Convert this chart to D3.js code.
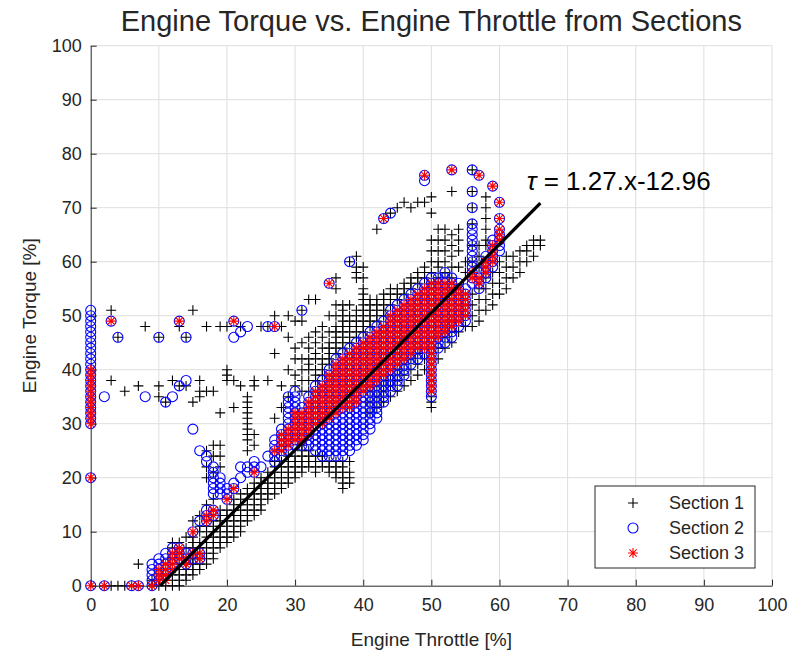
<!DOCTYPE html>
<html>
<head>
<meta charset="utf-8">
<script src="https://cdn.jsdelivr.net/npm/d3@7"></script>
<style>
body { margin: 0; background: #fff; }
svg { font-family: "Liberation Sans", Arial, sans-serif; }
</style>
</head>
<body>
<div id="chart"></div>
<script>

// tick values on both axes
var tickValues = [0, 10, 20, 30, 40, 50, 60, 70, 80, 90, 100];

// series names
var seriesNames = ["Section 1", "Section 2", "Section 3"];

// fitted line  tau = a.x + b  (drawn between two throttle values)
var fitSlope = 1.27;
var fitIntercept = -12.96;
var fitX = [10.2, 66];

// Section 1 : [throttle, [torque values]]
var section1 = [
	[2,[0]],[3,[0,38,51]],[4,[0,46]],[5,[0,36]],[6,[0]],[7,[0,4,37]],[8,[48]],[9,[0,1]],
	[10,[0,1,35,37,46]],[11,[0,1,2,34]],[12,[0,1,2,3,5,7,8,38]],[13,[0,1,2,3,4,6,8,37,48]],
	[14,[1,2,3,4,5,7,9,37,46]],[15,[2,3,4,5,6,7,8,9,12,34,51]],
	[16,[3,4,5,6,7,8,10,11,13,35,36,38]],[17,[4,5,6,7,8,9,10,11,15,20,22,25,36,48]],
	[18,[5,6,7,8,9,10,11,12,16,21,24,26,36]],[19,[7,8,9,10,11,12,13,14,22,24,26,32,48]],
	[20,[8,9,10,11,12,13,14,38,39,40,48]],[21,[9,10,11,12,13,14,15,16,33,38]],
	[22,[10,11,12,13,14,15,16,17,37,48]],
	[23,[12,13,14,15,16,17,18,25,27,28,29,30,31,32,33,34,35]],
	[24,[13,14,15,16,17,18,19,26,28,37,38]],[25,[14,15,16,17,18,19,20,48]],
	[26,[16,17,18,19,20,21,38,48]],[27,[17,18,19,20,21,22,23,31,43,50]],
	[28,[18,19,20,21,22,23,33,37,48]],[29,[19,20,21,22,23,24,35,40,46,50]],
	[30,[20,21,22,23,24,37,39,42,44,49]],[31,[21,22,23,24,25,26,36,38,40,42,45,49,51]],
	[32,[22,23,24,25,36,38,40,41,42,44,46,53]],[33,[21,22,23,24,38,39,40,42,43,45,47,53]],
	[34,[22,23,24,39,40,41,42,44,46,48]],[35,[21,22,23,41,42,43,44,45,47,50]],
	[36,[20,21,22,23,43,44,45,46,47,48,50,52,55,57]],
	[37,[18,19,20,21,22,23,44,45,46,47,48,49,50,51,52]],
	[38,[19,20,21,23,45,46,47,48,49,50,52,60]],[39,[46,47,48,49,50,51,57,58,59,61]],
	[40,[47,48,49,50,51,52,53,54,55,57,59]],[41,[32,34,36,48,49,50,51,52,53]],
	[42,[33,35,37,49,50,51,52,53,66]],[43,[34,36,38,50,51,52,53,54,68]],
	[44,[35,37,39,52,53,54,55,69]],[45,[36,38,40,53,54,55,70]],[46,[37,39,41,54,55,56,71]],
	[47,[38,40,42,55,56,57,70]],[48,[39,41,43,56,57,58,71]],[49,[40,42,44,57,58,59,71]],
	[50,[33,34,35,56,58,60,62,64,69,72]],[51,[42,44,46,57,59,60,62,64,66]],
	[52,[44,46,48,58,60,62,64,66]],[53,[45,47,49,57,59,61,63,65,73]],[54,[47,49,51,59,62,64,66]],
	[55,[48,50,52,58,60]],[56,[48,50,52,54,60,63,67,70,73,77]],[57,[49,51,53,55,59,61,63]],
	[58,[51,53,55,57,63,64,66,68,70,72]],[59,[52,54,56,58]],[60,[54,56,58,60]],
	[61,[55,57,59,61]],[62,[57,59,61]],[63,[58,60,62]],[64,[60,62,63]],[65,[61,63,64]],[66,[63,64]]
];

// Section 2
var section2 = [
	[0,[0,20,30,31,32,33,34,35,36,37,38,39,40,41,42,43,44,45,46,47,48,49,50,51]],
	[2,[0,35]],[3,[49]],[4,[46]],[6,[0]],[7,[0]],[8,[35]],[9,[0,1,2,3,4]],
	[10,[1,2,3,4,5,46]],[11,[2,3,4,5,6,34]],[12,[4,5,6,7,35]],[13,[5,6,7,37,49]],
	[14,[4,5,6,38,46]],[15,[5,6,10,29]],[16,[5,6,12,25]],[17,[12,13,14,23,24]],
	[18,[13,14,17,18,19,20,21,22]],[19,[17,18,19,20]],[20,[16,17,18]],[21,[18,19,46,49]],
	[22,[20,22,47]],[23,[21,22,48]],[24,[21,22,23]],[25,[22]],[26,[24,48]],
	[27,[23,24,25,26,27,48]],[28,[24,25,26,27,28,29]],
	[29,[25,26,27,28,29,30,31,32,33,34,35]],[30,[26,27,28,29,30,31,32,33,34,35,36]],
	[31,[26,27,28,29,30,31,32,33,51]],[32,[26,27,28,29,30,31,32,33,34,35]],
	[33,[25,26,27,28,29,30,31,32,33,34,35,36,37]],
	[34,[24,25,26,27,28,29,30,31,32,33,34,35,36,37,38]],
	[35,[24,25,26,27,28,29,30,31,32,33,34,35,36,37,38,39,40,56]],
	[36,[24,25,26,27,28,29,30,31,32,33,34,35,36,37,38,39,40,41,42]],
	[37,[24,25,26,27,28,29,30,31,32,33,34,35,36,37,38,39,40,41,42,43]],
	[38,[25,26,27,28,29,30,31,32,33,34,35,36,37,38,39,40,41,42,43,44,60]],
	[39,[26,27,28,29,30,31,32,33,34,35,36,37,38,39,40,41,42,43,44,45]],
	[40,[27,28,29,30,31,32,33,34,35,36,37,38,39,40,41,42,43,44,45,46]],
	[41,[29,30,31,32,33,34,35,36,37,38,39,40,41,42,43,44,45,46,47]],
	[42,[31,32,33,34,35,36,37,38,39,40,41,42,43,44,45,46,47,48]],
	[43,[34,35,36,37,38,39,40,41,42,43,44,45,46,47,48,49,68]],
	[44,[36,37,38,39,40,41,42,43,44,45,46,47,48,49,50,51,69]],
	[45,[37,38,39,40,41,42,43,44,45,46,47,48,49,50,51,52]],
	[46,[39,40,41,42,43,44,45,46,47,48,49,50,51,52,53]],
	[47,[41,42,43,44,45,46,47,48,49,50,51,52,53,54]],
	[48,[42,43,44,45,46,47,48,49,50,51,52,53,54,55]],
	[49,[43,44,45,46,47,48,49,50,51,52,53,54,55,56,75,76]],
	[50,[35,36,37,38,39,40,41,42,43,44,45,46,47,48,49,50,51,52,53,54,55,56,57]],
	[51,[44,45,46,47,48,49,50,51,52,53,54,55,56,57]],
	[52,[45,46,47,48,49,50,51,52,53,54,55,56,57,58]],
	[53,[46,47,48,49,50,51,52,53,54,55,56,57,77]],
	[54,[48,49,50,51,52,53,54,55,56]],[55,[49,50,51,52,53,54,55]],
	[56,[56,57,58,59,60,61,62,63,64,65,66,67,70,73,77]],[57,[55,56,57,58,76]],
	[58,[57,58,59,60,61]],[59,[59,60,61,62,63,64,74]],[60,[62,63,64,65,66,68,71]]
];

// Section 3
var section3 = [
	[0,[0,20,30,31,32,33,34,35,36,37,38,39,40]],
	[2,[0]],[3,[49]],[6,[0]],[7,[0]],[9,[0]],[10,[1,2,3]],[11,[1,2,3,4]],[12,[3,4,5,6]],
	[13,[5,6,7,49]],[14,[4,5]],[15,[6,10]],[16,[5,6]],[17,[12,13]],[18,[13,14]],
	[20,[16]],[21,[18,49]],[24,[21]],[27,[25,48]],
	[28,[25,26,27,28]],[29,[26,27,28,29]],[30,[27,28,29,30,31,32]],[31,[27,28,29,30,31,32]],
	[32,[28,29,30,31,32,33,34]],[33,[30,31,32,33,34,35,36]],[34,[30,31,32,33,34,35,36,37]],
	[35,[31,32,33,34,35,36,37,38,39,56]],[36,[32,33,34,35,36,37,38,39,40,41]],
	[37,[33,34,35,36,37,38,39,40,41,42]],[38,[33,34,35,36,37,38,39,40,41,42,43]],
	[39,[34,35,36,37,38,39,40,41,42,43,44]],[40,[36,37,38,39,40,41,42,43,44,45]],
	[41,[37,38,39,40,41,42,43,44,45,46]],[42,[38,39,40,41,42,43,44,45,46,47]],
	[43,[39,40,41,42,43,44,45,46,47,48,68]],[44,[40,41,42,43,44,45,46,47,48,49,50]],
	[45,[41,42,43,44,45,46,47,48,49,50,51]],[46,[42,43,44,45,46,47,48,49,50,51,52]],
	[47,[43,44,45,46,47,48,49,50,51,52,53]],[48,[44,45,46,47,48,49,50,51,52,53,54]],
	[49,[44,45,46,47,48,49,50,51,52,53,54,55,76]],
	[50,[36,37,38,39,40,41,42,43,44,45,46,47,48,49,50,51,52,53,54,55,56]],
	[51,[46,47,48,49,50,51,52,53,54,55,56]],[52,[47,48,49,50,51,52,53,54,55,56]],
	[53,[48,49,50,51,52,53,54,55,56,77]],[54,[49,50,51,52,53,54,55]],[55,[50,51,52,53,54]],
	[56,[57,58]],[57,[56,57,76]],[58,[58,59,60]],[59,[60,61,62,63,74]],[60,[64,65,66,68,71]]
];

function toPoints(cols){
	var pts = [];
	cols.forEach(function(c){
		c[1].forEach(function(y){ pts.push({x: c[0], y: y}); });
	});
	return pts;
}

var margin = {top: 45.7, right: 18, bottom: 73.3, left: 90.7};
var width = 790 - margin.left - margin.right,
	height = 659 - margin.top - margin.bottom;

var textColor = "#262626";

var svg = d3.select("#chart").append("svg")
	.attr("width", 790)
	.attr("height", 659);

var g = svg.append("g")
	.attr("transform", "translate(" + margin.left + "," + margin.top + ")");

var x = d3.scaleLinear().domain([0, 100]).range([0, width]);
var y = d3.scaleLinear().domain([0, 100]).range([height, 0]);

// grid
g.append("g").selectAll("line.gx")
	.data(tickValues.slice(1))
	.enter().append("line")
	.attr("x1", function(d){ return x(d); })
	.attr("x2", function(d){ return x(d); })
	.attr("y1", 0).attr("y2", height)
	.attr("stroke", "#dedede");

g.append("g").selectAll("line.gy")
	.data(tickValues.slice(1))
	.enter().append("line")
	.attr("y1", function(d){ return y(d); })
	.attr("y2", function(d){ return y(d); })
	.attr("x1", 0).attr("x2", width)
	.attr("stroke", "#dedede");

// axes, ticks pointing inside
var xAxis = g.append("g")
	.attr("transform", "translate(0," + height + ")")
	.call(d3.axisBottom(x).tickValues(tickValues).tickSizeInner(-6).tickSizeOuter(0).tickPadding(13));
var yAxis = g.append("g")
	.call(d3.axisLeft(y).tickValues(tickValues).tickSizeInner(-6).tickSizeOuter(0).tickPadding(9));

[xAxis, yAxis].forEach(function(a){
	a.selectAll("path, line").attr("stroke", textColor);
	a.selectAll("text")
		.attr("fill", textColor)
		.style("font-size", "18px")
		.style("font-family", "'Liberation Sans', Arial, sans-serif");
});

// markers
var plusPath = "M-5,0H5M0,-5V5";
var starPath = "M-5,0H5M0,-5V5M-3.6,-3.6L3.6,3.6M-3.6,3.6L3.6,-3.6";

g.append("g").selectAll("path")
	.data(toPoints(section1))
	.enter().append("path")
	.attr("d", plusPath)
	.attr("transform", function(d){ return "translate(" + x(d.x) + "," + y(d.y) + ")"; })
	.attr("stroke", "#000").attr("stroke-width", 1.1).attr("fill", "none");

g.append("g").selectAll("circle")
	.data(toPoints(section2))
	.enter().append("circle")
	.attr("cx", function(d){ return x(d.x); })
	.attr("cy", function(d){ return y(d.y); })
	.attr("r", 5)
	.attr("stroke", "#0000ff").attr("stroke-width", 1.1).attr("fill", "none");

g.append("g").selectAll("path")
	.data(toPoints(section3))
	.enter().append("path")
	.attr("d", starPath)
	.attr("transform", function(d){ return "translate(" + x(d.x) + "," + y(d.y) + ")"; })
	.attr("stroke", "#ff0000").attr("stroke-width", 1.1).attr("fill", "none");

// fitted line
g.append("line")
	.attr("x1", x(fitX[0])).attr("y1", y(fitSlope * fitX[0] + fitIntercept))
	.attr("x2", x(fitX[1])).attr("y2", y(fitSlope * fitX[1] + fitIntercept))
	.attr("stroke", "#000").attr("stroke-width", 3.2);

var eq = g.append("text")
	.attr("x", x(64.0))
	.attr("y", y(73.3))
	.attr("fill", "#000")
	.style("font-size", "26px");
eq.append("tspan").style("font-style", "italic").text("\u03C4");
eq.append("tspan").text(" = " + fitSlope + ".x" + fitIntercept);

// title and labels
svg.append("text")
	.attr("x", margin.left + width / 2)
	.attr("y", 31)
	.attr("text-anchor", "middle")
	.attr("fill", textColor)
	.style("font-size", "29px")
	.text("Engine Torque vs. Engine Throttle from Sections");

svg.append("text")
	.attr("x", margin.left + width / 2)
	.attr("y", 646)
	.attr("text-anchor", "middle")
	.attr("fill", textColor)
	.style("font-size", "19px")
	.text("Engine Throttle [%]");

svg.append("text")
	.attr("transform", "translate(36," + (margin.top + height / 2) + ") rotate(-90)")
	.attr("text-anchor", "middle")
	.attr("fill", textColor)
	.style("font-size", "19px")
	.text("Engine Torque [%]");

// legend
var legend = svg.append("g").attr("transform", "translate(595,486)");
legend.append("rect")
	.attr("width", 160).attr("height", 82)
	.attr("fill", "#fff").attr("stroke", textColor);

var legendRows = [
	{name: seriesNames[0], type: "plus"},
	{name: seriesNames[1], type: "circle"},
	{name: seriesNames[2], type: "star"}
];
legendRows.forEach(function(r, i){
	var ly = 17 + i * 25;
	if (r.type === "circle") {
		legend.append("circle").attr("cx", 38).attr("cy", ly).attr("r", 5)
			.attr("stroke", "#0000ff").attr("stroke-width", 1.1).attr("fill", "none");
	} else {
		legend.append("path")
			.attr("d", r.type === "plus" ? plusPath : starPath)
			.attr("transform", "translate(38," + ly + ")")
			.attr("stroke", r.type === "plus" ? "#000" : "#ff0000")
			.attr("stroke-width", 1.1).attr("fill", "none");
	}
	legend.append("text")
		.attr("x", 74).attr("y", ly + 6)
		.attr("fill", textColor)
		.style("font-size", "18px")
		.text(r.name);
});

</script>
</body>
</html>
